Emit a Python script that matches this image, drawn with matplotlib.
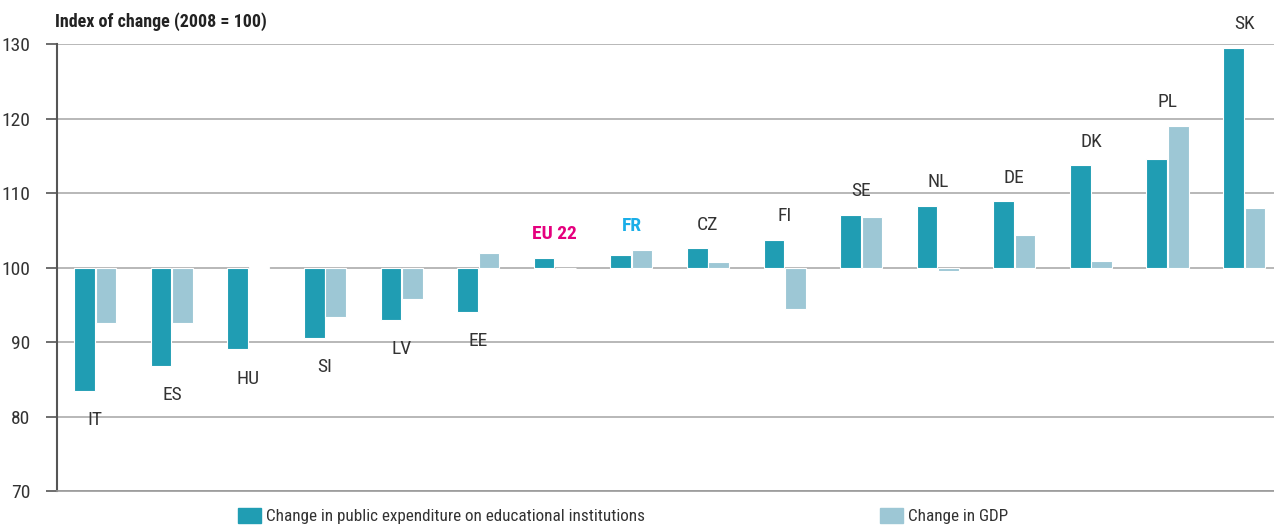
import matplotlib.pyplot as plt
from matplotlib.patches import Patch

countries = ['IT', 'ES', 'HU', 'SI', 'LV', 'EE', 'EU 22', 'FR', 'CZ', 'FI',
             'SE', 'NL', 'DE', 'DK', 'PL', 'SK']
expenditure = [83.4, 86.8, 89.0, 90.6, 93.0, 94.0, 101.3, 101.7, 102.6, 103.7,
               107.1, 108.3, 108.9, 113.7, 114.5, 129.5]
gdp = [92.5, 92.5, 100.1, 93.4, 95.8, 102.0, 99.9, 102.4, 100.7, 94.4,
       106.8, 99.6, 104.4, 100.9, 119.0, 108.0]
y_ticks = [70, 80, 90, 100, 110, 120, 130]

dark = '#209db3'
light = '#9dc7d5'
label_colors = {'EU 22': '#e5007e', 'FR': '#1aaee8'}
plt.rcParams['font.family'] = ['Roboto Condensed', 'Archivo Narrow',
                               'Barlow Semi Condensed', 'DejaVu Sans']

fig = plt.figure(figsize=(12.74, 5.26), dpi=100)
ax = fig.add_axes([0.0447, 0.0665, 0.9553, 0.8498])

x = list(range(len(countries)))
w = 0.27
ax.bar([i - 0.14 for i in x], [v - 100 for v in expenditure], w, bottom=100,
       color=dark, edgecolor='white', linewidth=0.8, zorder=3)
ax.bar([i + 0.14 for i in x], [v - 100 for v in gdp], w, bottom=100,
       color=light, edgecolor='white', linewidth=0.8, zorder=3)

for i, (c, e, g) in enumerate(zip(countries, expenditure, gdp)):
    col = label_colors.get(c, '#333333')
    weight = 'bold' if c in label_colors else 'normal'
    if e >= 100:
        y, dy = max(e, g), 17
    else:
        y, dy = min(e, g), -21
    ax.annotate(c, (i, y), xytext=(0, dy), textcoords='offset points',
                ha='center', va='center', fontsize=14, color=col,
                fontweight=weight)

ax.set_xlim(-0.5, 15.39)
ax.set_ylim(70, 130)
ax.set_yticks(y_ticks)
ax.set_xticks([])
ax.yaxis.grid(True, color='#ababab', linewidth=1.2)
ax.set_axisbelow(True)
ax.tick_params(axis='y', length=8, width=1.2, color='#555555', pad=11,
               labelsize=14, labelcolor='#333333')
for s in ['top', 'right']:
    ax.spines[s].set_visible(False)
ax.spines['left'].set_color('#555555')
ax.spines['left'].set_linewidth(1.5)
ax.spines['bottom'].set_color('#999999')
ax.spines['bottom'].set_linewidth(1.2)

fig.text(0.043, 0.958, 'Index of change (2008 = 100)', fontsize=13,
         fontweight='bold', color='#222222', va='center', ha='left')

fig.legend(handles=[Patch(color=dark, label='Change in public expenditure on educational institutions')],
           loc='center left', bbox_to_anchor=(0.175, 0.019), frameon=False,
           fontsize=12.3, handlelength=1.3, handleheight=1.0, handletextpad=0.3,
           labelcolor='#333333')
fig.legend(handles=[Patch(color=light, label='Change in GDP')],
           loc='center left', bbox_to_anchor=(0.679, 0.019), frameon=False,
           fontsize=12.3, handlelength=1.3, handleheight=1.0, handletextpad=0.3,
           labelcolor='#333333')

fig.savefig('out.png', dpi=100)
